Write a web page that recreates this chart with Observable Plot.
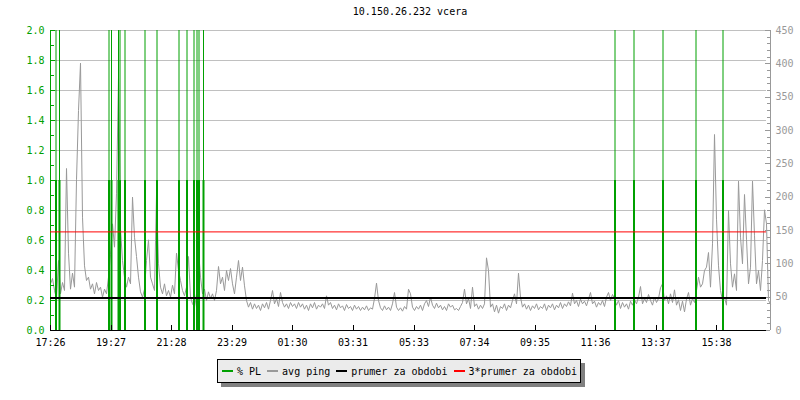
<!DOCTYPE html>
<html>
<head>
<meta charset="utf-8">
<script src="https://cdn.jsdelivr.net/npm/d3@7"></script>
<script src="https://cdn.jsdelivr.net/npm/@observablehq/plot@0.6"></script>
<style>
  body { margin: 0; background: #fff; }
  #wrap { position: relative; width: 800px; height: 400px; font-family: "DejaVu Sans Mono", monospace; font-size: 10px; color: #000; }
  #title { position: absolute; top: 6px; left: 310px; width: 200px; text-align: center; line-height: 12px; white-space: nowrap; }
  #chart { position: absolute; top: 20px; left: 0; }
  #legend { position: absolute; left: 217px; top: 359px; width: 358px; height: 22px; background: #ebebeb; border: 1px solid #000; box-shadow: 4px 4px 0 #808080; display: flex; align-items: center; padding-left: 4px; white-space: nowrap; }
  .item { display: flex; align-items: center; margin-right: 6px; }
  .sw { display: inline-block; width: 11px; height: 2px; margin-right: 4px; }
</style>
</head>
<body>
<div id="wrap">
  <div id="title"></div>
  <div id="chart"></div>
  <div id="legend"></div>
</div>
<script>
// ---- data ----
const titleText = "10.150.26.232 vcera";
const xTickMinutes = [0, 121, 242, 363, 484, 605, 727, 848, 969, 1090, 1211, 1332];
const xTickLabels = ["17:26", "19:27", "21:28", "23:29", "01:30", "03:31", "05:33", "07:34", "09:35", "11:36", "13:37", "15:38"];
const leftTicks = [0, 0.2, 0.4, 0.6, 0.8, 1.0, 1.2, 1.4, 1.6, 1.8, 2.0];
const leftMinorTicks = [0.1, 0.3, 0.5, 0.7, 0.9, 1.1, 1.3, 1.5, 1.7, 1.9];
const rightTicks = [0, 50, 100, 150, 200, 250, 300, 350, 400, 450];
const rightMinorTicks = [10, 20, 30, 40, 60, 70, 80, 90, 110, 120, 130, 140, 160, 170, 180, 190, 210, 220, 230, 240, 260, 270, 280, 290, 310, 320, 330, 340, 360, 370, 380, 390, 410, 420, 430, 440];
const msPerLeftUnit = 225;      // 2.0 on the left axis = 450 ms on the right axis
const dayMinutes = 1440;
const pingStepMinutes = 4;
// avg ping (ms), one value every 4 minutes from 17:26
const avgPing = [
  70, 78, 60, 48, 105, 55, 72, 60, 243, 116,
  62, 86, 65, 226, 330, 401, 170, 97, 75, 80,
  62, 70, 55, 72, 60, 65, 50, 62, 55, 80,
  114, 160, 125, 205, 380, 152, 105, 80, 65, 80,
  70, 200, 140, 111, 80, 58, 50, 62, 105, 136,
  80, 70, 60, 204, 100, 65, 55, 70, 52, 60,
  50, 68, 55, 116, 90, 75, 60, 52, 65, 111,
  50, 40, 35, 55, 122, 80, 55, 62, 45, 58,
  48, 55, 45, 60, 96, 70, 80, 60, 90, 75,
  93, 70, 55, 80, 105, 75, 95, 67, 45, 35,
  42, 32, 40, 33, 38, 30, 40, 34, 42, 32,
  45, 60, 40, 48, 36, 57, 42, 35, 40, 33,
  42, 36, 40, 33, 42, 35, 40, 32, 38, 30,
  40, 34, 42, 32, 38, 35, 40, 33, 52, 38,
  42, 33, 38, 31, 40, 34, 37, 30, 39, 33,
  36, 30, 38, 32, 36, 30, 35, 31, 37, 30,
  34, 32, 48, 71, 45, 34, 30, 37, 31, 35,
  30, 40, 57, 35, 30, 34, 29, 36, 32, 62,
  55, 35, 30, 36, 32, 38, 30, 40, 45, 36,
  50, 38, 33, 41, 34, 38, 31, 36, 30, 40,
  35, 38, 31, 33, 30, 36, 42, 62, 40, 48,
  33, 65, 36, 40, 32, 38, 33, 40, 109, 90,
  35, 40, 28, 38, 26, 36, 33, 40, 30, 38,
  34, 45, 55, 40, 86, 50, 35, 40, 32, 38,
  30, 37, 33, 40, 31, 36, 33, 40, 30, 38,
  34, 40, 31, 38, 34, 42, 33, 40, 36, 43,
  37, 56, 40, 45, 36, 47, 40, 44, 37, 47,
  57, 40, 44, 35, 42, 38, 45, 36, 50, 57,
  45, 54, 48, 38, 45, 33, 42, 35, 40, 32,
  44, 38, 46, 40, 50, 66, 40, 48, 42, 54,
  45, 38, 50, 42, 48, 64, 70, 45, 52, 40,
  55, 42, 61, 38, 46, 30, 44, 28, 47, 57,
  38, 48, 42, 60, 80, 65, 70, 90, 95, 117,
  65, 130, 294, 167, 97, 60, 45, 50, 38, 180,
  100, 65, 85, 60, 224, 140, 100, 204, 137, 70,
  95, 224, 142, 70, 90, 60, 105, 181, 160, 45,
  40
];
const plMinutes = [11, 18, 117, 122, 136, 139, 149, 189, 213, 257, 273, 287, 293, 297, 306, 1129, 1167, 1225, 1291, 1345];
const plValues  = [1, 1, 1, 1, 1, 1, 1, 1, 1, 1, 1, 1, 1, 1, 1, 1, 1, 1, 1, 1];
const meanPing = 49.3;
const meanFactor = 3;
const legendItems = ["% PL", "avg ping", "prumer za obdobi", "3*prumer za obdobi"];
const legendColors = ["#00a000", "#999999", "#000000", "#ff0000"];

// ---- build ----
const green = legendColors[0], grey = legendColors[1];
const pingData = avgPing.map((v, i) => ({t: i * pingStepMinutes, ms: v}));
const plData = plMinutes.map((t, i) => ({t, v: plValues[i]}));
const crisp = {shapeRendering: "crispEdges"};

document.getElementById("title").textContent = titleText;

const chart = Plot.plot({
  width: 800,
  height: 335,
  marginLeft: 50,
  marginRight: 30,
  marginTop: 10,
  marginBottom: 25,
  style: {fontFamily: "DejaVu Sans Mono, monospace", fontSize: "10px", background: "transparent", overflow: "visible"},
  x: {domain: [0, dayMinutes]},
  y: {domain: [0, 2]},
  marks: [
    Plot.ruleY(leftTicks.slice(1), {stroke: "#c0c0c0", insetRight: 4, ...crisp}),
    Plot.line(pingData, {x: "t", y: d => d.ms / msPerLeftUnit, stroke: grey, strokeWidth: 1}),
    Plot.ruleX(plData, {x: "t", y1: 0, y2: 2, stroke: green, strokeWidth: 1}),
    Plot.ruleX(plData, {x: "t", y1: 0, y2: "v", stroke: green, strokeWidth: 2}),
    Plot.ruleX([0], {stroke: green}),
    Plot.ruleY(leftMinorTicks, {stroke: green, insetRight: 716}),
    Plot.ruleY(leftTicks, {stroke: green, insetRight: 715}),
    Plot.ruleX([dayMinutes], {stroke: grey, ...crisp}),
    Plot.ruleY(rightTicks.map(v => v / msPerLeftUnit), {stroke: grey, insetLeft: 715, ...crisp}),
    Plot.ruleY(rightMinorTicks.map(v => v / msPerLeftUnit), {stroke: grey, insetLeft: 717, ...crisp}),
    Plot.ruleY([0], {stroke: "#000", insetRight: 4, ...crisp}),
    Plot.ruleX(xTickMinutes, {stroke: "#000", insetTop: 295, ...crisp}),
    Plot.ruleY([meanPing / msPerLeftUnit], {stroke: "#000", strokeWidth: 2, insetRight: 4, ...crisp}),
    Plot.ruleY([meanFactor * meanPing / msPerLeftUnit], {stroke: legendColors[3], strokeWidth: 1, insetRight: 4}),
    Plot.axisY({ticks: leftTicks, anchor: "left", tickSize: 0, tickPadding: 6, tickFormat: d3.format(".1f"), color: green, label: null}),
    Plot.axisY({ticks: rightTicks.map(v => v / msPerLeftUnit), anchor: "right", tickSize: 0, tickPadding: 5, tickFormat: d => String(Math.round(d * msPerLeftUnit)), color: grey, label: null}),
    Plot.axisX({ticks: xTickMinutes, anchor: "bottom", tickSize: 0, tickPadding: 8, tickFormat: d => xTickLabels[xTickMinutes.indexOf(d)], color: "#000", label: null})
  ]
});
document.getElementById("chart").appendChild(chart);

const legend = document.getElementById("legend");
legendItems.forEach((name, i) => {
  const item = document.createElement("span");
  item.className = "item";
  const sw = document.createElement("span");
  sw.className = "sw";
  sw.style.background = legendColors[i];
  const tx = document.createElement("span");
  tx.textContent = name;
  item.appendChild(sw);
  item.appendChild(tx);
  legend.appendChild(item);
});
</script>
</body>
</html>
